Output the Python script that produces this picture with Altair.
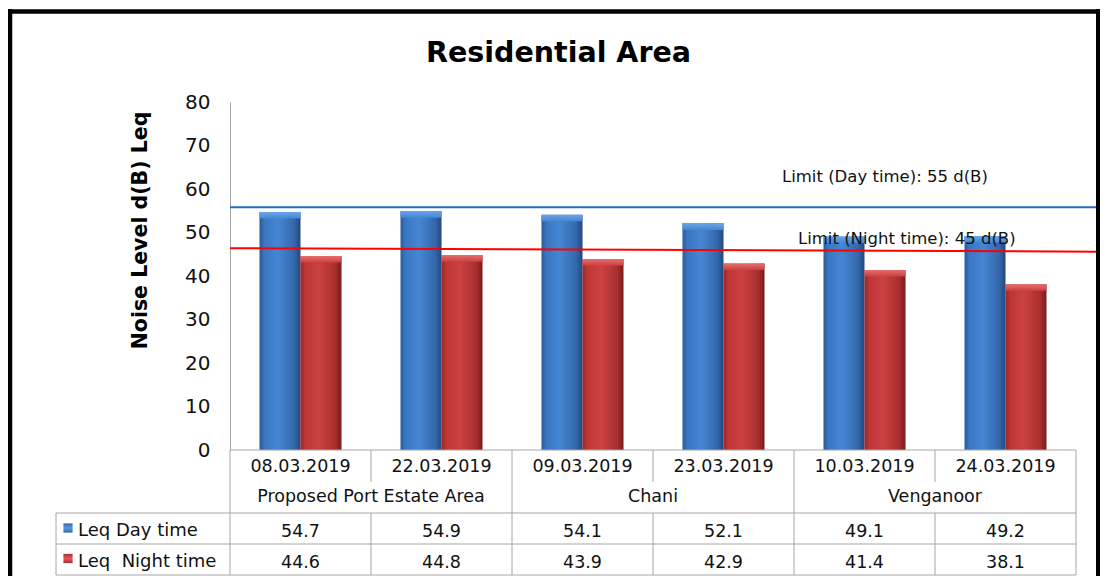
import altair as alt
import pandas as pd

# ---------------- data ----------------
dates = ["08.03.2019", "22.03.2019", "09.03.2019", "23.03.2019", "10.03.2019", "24.03.2019"]
sites = ["Proposed Port Estate Area", "Proposed Port Estate Area", "Chani", "Chani", "Venganoor", "Venganoor"]
site_names = ["Proposed Port Estate Area", "Chani", "Venganoor"]
site_first_dates = ["08.03.2019", "09.03.2019", "10.03.2019"]
leq_day = [54.7, 54.9, 54.1, 52.1, 49.1, 49.2]
leq_night = [44.6, 44.8, 43.9, 42.9, 41.4, 38.1]
series_names = ["Leq Day time", "Leq\u00a0\u00a0Night time"]
limit_day_line = [55.8, 55.8]      # start / end value of drawn day limit line
limit_night_line = [46.4, 45.6]    # start / end value of drawn night limit line
limit_labels = ["Limit (Day time): 55 d(B)", "Limit (Night time): 45 d(B)"]
y_ticks = [0, 10, 20, 30, 40, 50, 60, 70, 80]
title_text = "Residential Area"
y_title = "Noise Level d(B) Leq"

# ---------------- layout ----------------
W, H = 846, 348
FONT = "DejaVu Sans"
GRID = "#a6a6a6"
TXT = "#111111"

table = pd.DataFrame({"date": dates, "site": sites, "day": leq_day, "night": leq_night})
day_df = pd.DataFrame({"date": dates, "value": leq_day, "series": series_names[0]})
night_df = pd.DataFrame({"date": dates, "value": leq_night, "series": series_names[1]})
site_df = pd.DataFrame({"date": site_first_dates, "site": site_names})
limits_df = pd.DataFrame({"v1": [limit_day_line[0]], "v2": [limit_day_line[1]]})
limitn_df = pd.DataFrame({"v1": [limit_night_line[0]], "v2": [limit_night_line[1]]})

xscale = alt.Scale(domain=dates, paddingInner=0, paddingOuter=0)
yscale = alt.Scale(domain=[0, 80], nice=False, zero=True)
yaxis = alt.Axis(values=y_ticks, grid=False, ticks=False, tickSize=0, domainColor=GRID,
                 labelFontSize=20, labelFont=FONT, labelColor=TXT, labelPadding=20, title=None)
xoff_scale = alt.Scale(domain=series_names, paddingOuter=0.7195, paddingInner=0)


def X(field="date", bp=0.5):
    return alt.X(field, type="nominal", scale=xscale, axis=None, bandPosition=bp)


def Y(field):
    return alt.Y(field, type="quantitative", scale=yscale, axis=yaxis)


def grad(stops, horizontal=True):
    return alt.LinearGradient(
        gradient="linear",
        stops=[alt.GradientStop(color=c, offset=o) for o, c in stops],
        x1=0, x2=1 if horizontal else 0, y1=0, y2=0 if horizontal else 1,
    )


blue_grad = grad([(0, "#2a5a99"), (0.12, "#3a76c2"), (0.45, "#4686d3"), (0.85, "#3467ab"), (1, "#22477c")])
red_grad = grad([(0, "#992626"), (0.12, "#bf3636"), (0.45, "#cc4141"), (0.85, "#a82e2e"), (1, "#771b1b")])
blue_cap = grad([(0, "#6aa4e8"), (1, "#4686d3")], horizontal=False)
red_cap = grad([(0, "#e66e6e"), (1, "#cc4141")], horizontal=False)

layers = []

# bars
for df, g, cap in [(day_df, blue_grad, blue_cap), (night_df, red_grad, red_cap)]:
    base = alt.Chart(df)
    layers.append(base.mark_bar(fill=g).encode(
        x=X(), xOffset=alt.XOffset("series:N", scale=xoff_scale), y=Y("value")))
    layers.append(base.transform_calculate(top="datum.value - 1.5").mark_bar(fill=cap).encode(
        x=X(), xOffset=alt.XOffset("series:N", scale=xoff_scale), y=Y("value"), y2="top:Q"))

# limit lines
layers.append(alt.Chart(limits_df).mark_rule(color="#1c6fc6", strokeWidth=2.2).encode(
    y=Y("v1"), y2="v2:Q", x=alt.value(0), x2=alt.value(W + 20)))
layers.append(alt.Chart(limitn_df).mark_rule(color="#ff0000", strokeWidth=2).encode(
    y=Y("v1"), y2="v2:Q", x=alt.value(0), x2=alt.value(W + 22)))

# limit labels
lab_df = pd.DataFrame({"t": limit_labels})
layers.append(alt.Chart(lab_df.iloc[[0]]).mark_text(
    font=FONT, fontSize=16.5, align="left", baseline="alphabetic", color=TXT).encode(
    text="t:N", x=alt.value(552), y=alt.value(80.3)))
layers.append(alt.Chart(lab_df.iloc[[1]]).mark_text(
    font=FONT, fontSize=16.5, align="left", baseline="alphabetic", color=TXT).encode(
    text="t:N", x=alt.value(568), y=alt.value(142)))

# title and y title
layers.append(alt.Chart(pd.DataFrame({"t": [title_text]})).mark_text(
    font=FONT, fontSize=28.5, fontWeight="bold", align="center", baseline="alphabetic", color="#000").encode(
    text="t:N", x=alt.value(328.5), y=alt.value(-40)))
layers.append(alt.Chart(pd.DataFrame({"t": [y_title]})).mark_text(
    font=FONT, fontSize=20.5, fontWeight="bold", align="center", baseline="alphabetic", angle=270, color="#000").encode(
    text="t:N", x=alt.value(-83), y=alt.value(128.5)))

# ---------------- data table ----------------
tbase = alt.Chart(table)
layers.append(tbase.mark_text(font=FONT, fontSize=17.5, baseline="alphabetic", color=TXT).encode(
    x=X(), y=alt.value(369.7), text="date:N"))
layers.append(alt.Chart(site_df).mark_text(font=FONT, fontSize=17.5, baseline="alphabetic", color=TXT).encode(
    x=X("date", 1), y=alt.value(399.7), text="site:N"))
layers.append(tbase.mark_text(font=FONT, fontSize=17.5, baseline="alphabetic", color=TXT).encode(
    x=X(), y=alt.value(434.7), text=alt.Text("day:Q", format=".1f")))
layers.append(tbase.mark_text(font=FONT, fontSize=17.5, baseline="alphabetic", color=TXT).encode(
    x=X(), y=alt.value(466.3), text=alt.Text("night:Q", format=".1f")))

# table grid
group_start = pd.DataFrame({"date": [dates[0], dates[2], dates[4]]})
inner = pd.DataFrame({"date": [dates[1], dates[3], dates[5]]})
last = pd.DataFrame({"date": [dates[-1]]})
layers.append(alt.Chart(group_start).mark_rule(color=GRID, strokeWidth=1).encode(
    x=X("date", 0), y=alt.value(H), y2=alt.value(473)))
layers.append(alt.Chart(last).mark_rule(color=GRID, strokeWidth=1).encode(
    x=X("date", 1), y=alt.value(H), y2=alt.value(473)))
layers.append(alt.Chart(inner).mark_rule(color=GRID, strokeWidth=1).encode(
    x=X("date", 0), y=alt.value(H), y2=alt.value(380)))
layers.append(alt.Chart(inner).mark_rule(color=GRID, strokeWidth=1).encode(
    x=X("date", 0), y=alt.value(411), y2=alt.value(473)))
one = pd.DataFrame({"k": [0]})
layers.append(alt.Chart(one).mark_rule(color=GRID, strokeWidth=1).encode(
    x=alt.value(0), x2=alt.value(W), y=alt.value(H)))
for yy in [411, 442, 473]:
    layers.append(alt.Chart(one).mark_rule(color=GRID, strokeWidth=1).encode(
        x=alt.value(-174), x2=alt.value(W), y=alt.value(yy)))
layers.append(alt.Chart(one).mark_rule(color=GRID, strokeWidth=1).encode(
    x=alt.value(-174), y=alt.value(411), y2=alt.value(473)))

# legend entries in table
leg_df = pd.DataFrame({"s": series_names})
layers.append(alt.Chart(leg_df.iloc[[0]]).mark_point(shape="square", filled=True, size=85, opacity=1,
                                                      fill=grad([(0, "#2f66b0"), (0.5, "#5a9ae0"), (1, "#2f66b0")], False)).encode(
    x=alt.value(-162), y=alt.value(426)))
layers.append(alt.Chart(leg_df.iloc[[1]]).mark_point(shape="square", filled=True, size=85, opacity=1,
                                                      fill=grad([(0, "#a82c2c"), (0.5, "#e05a5a"), (1, "#a82c2c")], False)).encode(
    x=alt.value(-162), y=alt.value(456.5)))
layers.append(alt.Chart(leg_df.iloc[[0]]).mark_text(font=FONT, fontSize=18, align="left", baseline="alphabetic", color=TXT).encode(
    text="s:N", x=alt.value(-152), y=alt.value(433.5)))
layers.append(alt.Chart(leg_df.iloc[[1]]).mark_text(font=FONT, fontSize=18, align="left", baseline="alphabetic", color=TXT).encode(
    text="s:N", x=alt.value(-152), y=alt.value(464.5)))

# outer frame
layers.append(alt.Chart(one).mark_rule(color="#000", strokeWidth=5.5).encode(
    x=alt.value(-220.5), y=alt.value(-93), y2=alt.value(490)))
layers.append(alt.Chart(one).mark_rule(color="#000", strokeWidth=4.5).encode(
    x=alt.value(-223), x2=alt.value(880), y=alt.value(-90.5)))
layers.append(alt.Chart(one).mark_rule(color="#000", strokeWidth=4).encode(
    x=alt.value(W + 22), y=alt.value(-93), y2=alt.value(490)))

chart = alt.layer(*layers).properties(
    width=W, height=H,
    autosize=alt.AutoSizeParams(type="none"),
    padding={"left": 222, "top": 94, "right": 24, "bottom": 126},
    background="white",
).configure_view(stroke=None)

chart.save("out.html", embed_options={"renderer": "svg", "actions": False})
